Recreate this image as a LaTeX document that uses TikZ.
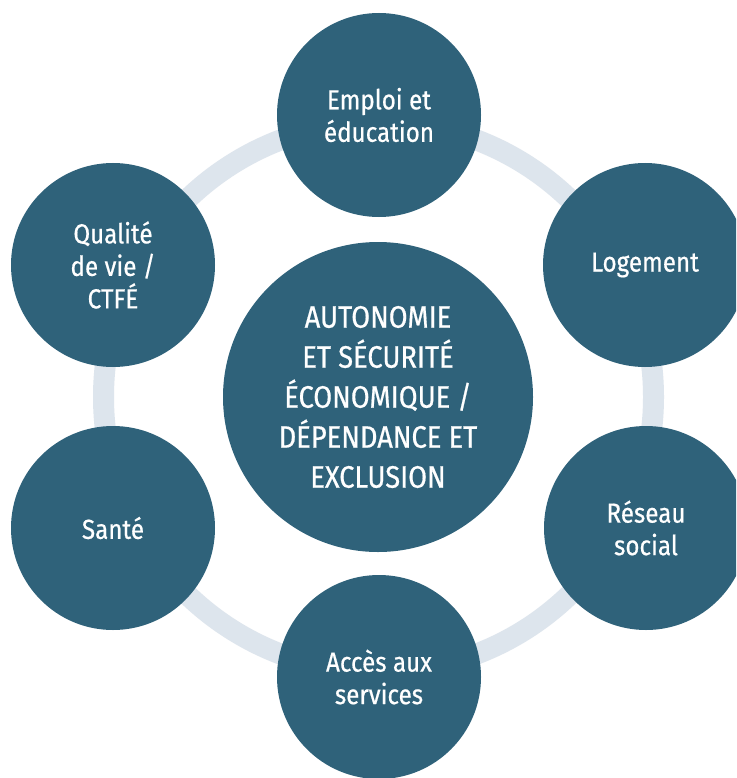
\documentclass[tikz,border=0pt]{standalone}
\usepackage{fontspec}
\setmainfont[FakeStretch=0.88,FakeBold=0.6]{Fira Sans}
\definecolor{circfill}{HTML}{2F627A}
\definecolor{ringcol}{HTML}{DDE5ED}
\tikzset{
  ring/.style={draw=ringcol, line width=21pt},
  outer/.style={circle, fill=circfill, minimum size=204pt, inner sep=0pt,
    text=white, align=center, font=\fontsize{27.5}{32.5}\selectfont},
  core/.style={circle, fill=circfill, minimum size=310pt, inner sep=0pt,
    text=white, align=center, font=\fontsize{31}{40}\selectfont}
}
\begin{document}
\begin{tikzpicture}[x=1pt,y=-1pt]
\useasboundingbox (0,0) rectangle (736,778);
\clip (0,0) rectangle (736,778);
\fill[white] (0,0) rectangle (736,778);
\coordinate (hub) at (378.5,397);
\draw[ring] (hub) circle[radius=275pt];
\node[core] (centre) at (378,397) {AUTONOMIE\\ET SÉCURITÉ\\ÉCONOMIQUE /\\DÉPENDANCE ET\\EXCLUSION};
\node[outer] (emploi) at (379,115) {Emploi et\\éducation};
\node[outer] (logement) at (645,265) {Logement};
\node[outer] (reseau) at (646,528) {Réseau\\social};
\node[outer] (acces) at (379,677) {Accès aux\\services};
\node[outer] (sante) at (113,528) {Santé};
\node[outer] (qualite) at (113,265) {Qualité\\de vie /\\CTFÉ};
\end{tikzpicture}
\end{document}
